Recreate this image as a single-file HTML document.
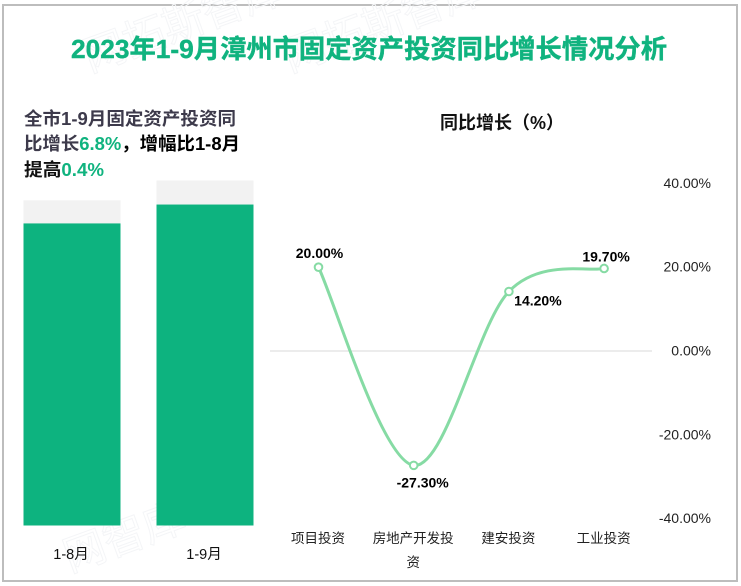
<!DOCTYPE html>
<html lang="zh">
<head>
<meta charset="utf-8">
<title>2023年1-9月漳州市固定资产投资同比增长情况分析</title>
<style>
html,body{margin:0;padding:0;background:#fff;}
body{width:741px;height:586px;overflow:hidden;}
svg{display:block;font-family:"Liberation Sans","Noto Sans CJK SC",sans-serif;}
text{white-space:pre;}
</style>
</head>
<body>
<svg id="chart" xmlns="http://www.w3.org/2000/svg" width="741" height="586" viewBox="0 0 741 586">
  <rect x="3" y="5" width="734" height="576" fill="#fff" stroke="#bdbdbd" stroke-width="2"/>
  <g font-size="42" fill="none" stroke="#f4f5f7" stroke-width="1">
    <text x="90" y="72" transform="rotate(-20 90 72)">网拓斯智库</text>
    <text x="290" y="72" transform="rotate(-20 290 72)">网拓斯智库</text>
    <text x="70" y="572" transform="rotate(-20 70 572)">网智库</text>
  </g>
  <text x="71" y="58" font-size="26" font-weight="700" fill="#10b37f" stroke="#10b37f" stroke-width="0.4" textLength="596" lengthAdjust="spacingAndGlyphs">2023年1-9月漳州市固定资产投资同比增长情况分析</text>
  <g font-size="18" font-weight="700">
    <text x="24" y="125" fill="#3d3a4b" textLength="212" lengthAdjust="spacingAndGlyphs">全市1-9月固定资产投资同</text>
    <text x="24" y="150" textLength="216" lengthAdjust="spacingAndGlyphs"><tspan fill="#3d3a4b">比增长</tspan><tspan fill="#10b37f">6.8%</tspan><tspan fill="#000">，增幅比1-8月</tspan></text>
    <text x="24" y="176" textLength="80" lengthAdjust="spacingAndGlyphs"><tspan fill="#111">提高</tspan><tspan fill="#10b37f">0.4%</tspan></text>
  </g>
  <text x="440" y="129" font-size="18" font-weight="700" fill="#111" textLength="124" lengthAdjust="spacingAndGlyphs">同比增长（%）</text>
  <g id="bars"></g>
  <g id="line"></g>
</svg>
<script>
var barCategories = ['1-8月', '1-9月'];
var barValues = [6.4, 6.8];
var barRemainder = [0.49, 0.51];

var lineCategories = ['项目投资', '房地产开发投资', '建安投资', '工业投资'];
var lineValues = [20.0, -27.3, 14.2, 19.7];
var lineLabels = ['20.00%', '-27.30%', '14.20%', '19.70%'];
var yTickValues = [40, 20, 0, -20, -40];
var yTickLabels = ['40.00%', '20.00%', '0.00%', '-20.00%', '-40.00%'];

var NS = 'http://www.w3.org/2000/svg';
function make(parent, tag, attrs, txt) {
  var el = document.createElementNS(NS, tag);
  for (var k in attrs) el.setAttribute(k, attrs[k]);
  if (txt !== undefined) el.textContent = txt;
  parent.appendChild(el);
  return el;
}

/* bar chart axes */
function barX(i) { return 72 + 133 * i; }
function barY(v) { return 525.5 - 47.2 * v; }
var barW = 97;
var barsG = document.getElementById('bars');
barCategories.forEach(function (cat, i) {
  var top = barValues[i] + barRemainder[i];
  var rest = make(barsG, 'rect', {x: barX(i) - barW / 2, y: barY(top), width: barW, height: barY(barValues[i]) - barY(top), fill: '#f2f2f2'});
  
  
  var bar = make(barsG, 'rect', {x: barX(i) - barW / 2, y: barY(barValues[i]), width: barW, height: barY(0) - barY(barValues[i]), fill: '#0db37f'});
  
  
  var lab = make(barsG, 'text', {x: barX(i) - 1, y: 559, 'text-anchor': 'middle', 'font-size': 14.5, fill: '#111'}, cat);
  
  
});

/* line chart axes */
function lineX(i) { return 318.5 + 95.2 * i; }
function lineY(v) { return 351 - 4.19 * v; }
var lineG = document.getElementById('line');

var zero = make(lineG, 'line', {x1: 270, x2: 652, y1: lineY(0), y2: lineY(0), stroke: '#d9d9d9', 'stroke-width': 1});



yTickValues.forEach(function (v, i) {
  var t = make(lineG, 'text', {x: 711, y: lineY(v) + 4.5, 'text-anchor': 'end', 'font-size': 14, fill: '#222'}, yTickLabels[i]);
  
  
});

var pts = lineValues.map(function (v, i) { return [lineX(i), lineY(v)]; });
var d = 'M' + pts[0][0] + ' ' + pts[0][1];
for (var s = 0; s < pts.length - 1; s++) {
  var p0 = pts[Math.max(s - 1, 0)], p1 = pts[s], p2 = pts[s + 1], p3 = pts[Math.min(s + 2, pts.length - 1)];
  d += ' C' + (p1[0] + (p2[0] - p0[0]) / 6) + ' ' + (p1[1] + (p2[1] - p0[1]) / 6) +
       ' ' + (p2[0] - (p3[0] - p1[0]) / 6) + ' ' + (p2[1] - (p3[1] - p1[1]) / 6) +
       ' ' + p2[0] + ' ' + p2[1];
}
var path = make(lineG, 'path', {d: d, fill: 'none', stroke: '#86dba4', 'stroke-width': 3, 'stroke-linecap': 'round'});



var labelDx = [1, 9, 29, 2];
var labelDy = [-9, 22, 14, -7];
pts.forEach(function (p, i) {
  var c = make(lineG, 'circle', {cx: p[0], cy: p[1], r: 3.8, fill: '#fff', stroke: '#86dba4', 'stroke-width': 2});
  
  
  var l = make(lineG, 'text', {x: p[0] + labelDx[i], y: p[1] + labelDy[i], 'text-anchor': 'middle', 'font-size': 14, 'font-weight': 700, fill: '#000'}, lineLabels[i]);
  
  
});

lineCategories.forEach(function (cat, i) {
  var perLine = 6;
  for (var n = 0; n * perLine < cat.length; n++) {
    var t = make(lineG, 'text', {x: lineX(i) - 0.5, y: 543 + 24 * n, 'text-anchor': 'middle', 'font-size': 13.5, fill: '#222'}, cat.slice(n * perLine, (n + 1) * perLine));
    
    
  }
});
</script>
</body>
</html>
